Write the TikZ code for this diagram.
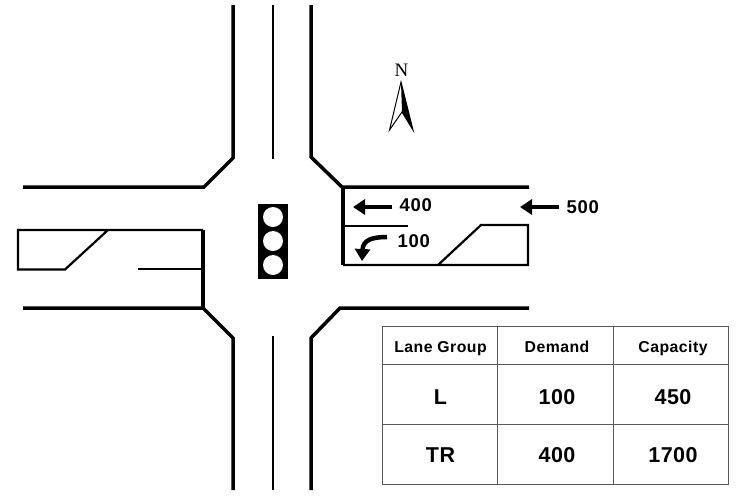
\documentclass[tikz,border=0pt]{standalone}
\usepackage{fontspec}
\setmainfont{Liberation Sans}
\newfontfamily\serifnorth{Liberation Serif}
\usetikzlibrary{arrows.meta}
\tikzset{
    curb/.style = {
        draw, line width=3.5pt, line join=miter
    },
    lane/.style = {
        draw, line width=2.2pt, line join=miter
    },
    grid/.style = {
        draw=black!65, line width=1pt
    },
    flow/.style = {
        draw, line width=4.5pt,
        -{Triangle[length=12pt,width=15pt]}
    },
    vol/.style = {
        font=\bfseries\fontsize{18.5}{20}\selectfont\addfontfeature{LetterSpace=4},
        inner sep=0, anchor=base west
    },
    head/.style = {
        font=\bfseries\fontsize{15.8}{18}\selectfont\addfontfeature{LetterSpace=3},
        inner sep=0, anchor=base
    },
    cell/.style = {
        font=\bfseries\fontsize{21.5}{24}\selectfont\addfontfeature{LetterSpace=2},
        inner sep=0, anchor=base
    }
}

\begin{document}
\begin{tikzpicture}[x=1pt,y=-1pt]
\useasboundingbox (0,0) rectangle (747,496);

% 1. road edges and centre lines
\draw [curb] (233,5) -- (233,158) -- (204,187) -- (23,187);
\draw [curb] (311,5) -- (311,157) -- (342,187) -- (529,187);
\draw [curb] (23,308) -- (203,308) -- (233,338) -- (233,490);
\draw [curb] (529,308) -- (340,308) -- (311,338) -- (311,490);
\draw [lane] (273,5) -- (273,159);
\draw [lane] (273,336) -- (273,490);

% 2. east approach
\draw [line width=4pt] (343,187) -- (343,265);
\draw [lane] (343,226) -- (408,226);
\draw [lane] (343,265) -- (528,265) -- (528,225) -- (481,225) -- (438,265);

% 3. west approach
\draw [line width=4pt] (203,230) -- (203,308);
\draw [lane] (138,269) -- (203,269);
\draw [lane] (203,230) -- (18,230) -- (18,269.5) -- (65,269.5) -- (108,230);

% 4. signal head
\node[fill=black,minimum width=30pt,minimum height=75pt,inner sep=0] (signal) at (273,241.5) {};
\foreach \name/\y in {red/217,amber/241,green/265}
    \node[circle,fill=white,minimum size=20pt,inner sep=0] (\name) at (273,\y) {};

% 5. north arrow
\node[font=\serifnorth\fontsize{19}{20}\selectfont,inner sep=0] (north) at (401.5,70) {N};
\coordinate (tip) at (401,82);
\coordinate (notch) at (402,112);
\fill (tip) -- (413,130) -- (notch) -- cycle;
\draw [line width=1pt,line join=miter] (tip) -- (389.5,130) -- (notch) -- (413,130) -- cycle;

% 6. volumes
\node[vol] (v400) at (399.5,211) {400};
\node[vol] (v500) at (566.5,213.7) {500};
\node[vol] (v100) at (397.5,247) {100};
\coordinate (s400) at (392,207);
\coordinate (e400) at (353,207);
\coordinate (s500) at (559,207);
\coordinate (e500) at (520,207);
\coordinate (s100) at (387,237);
\coordinate (e100) at (362,261);
\draw [flow] (s400) -- (e400);
\draw [flow] (s500) -- (e500);
\draw [flow] (s100) .. controls (372,237) and (363,240) .. (e100);

% 7. table
\draw [grid] (382,326) rectangle (728,484);
\draw [grid] (497,326) -- (497,484) (613,326) -- (613,484);
\draw [grid] (382,364) -- (728,364) (382,424) -- (728,424);
\node[head] (hLane) at (440.5,352.3) {Lane Group};
\node[head] (hDem)  at (557,352.3)   {Demand};
\node[head] (hCap)  at (673,352.3)   {Capacity};
\node[cell] (cL)    at (440.5,404.3) {L};
\node[cell] (c100)  at (557,404.3)   {100};
\node[cell] (c450)  at (673,404.3)   {450};
\node[cell] (cTR)   at (440.5,462.7) {TR};
\node[cell] (c400)  at (557,462.7)   {400};
\node[cell] (c1700) at (673,462.7)   {1700};

\end{tikzpicture}
\end{document}
